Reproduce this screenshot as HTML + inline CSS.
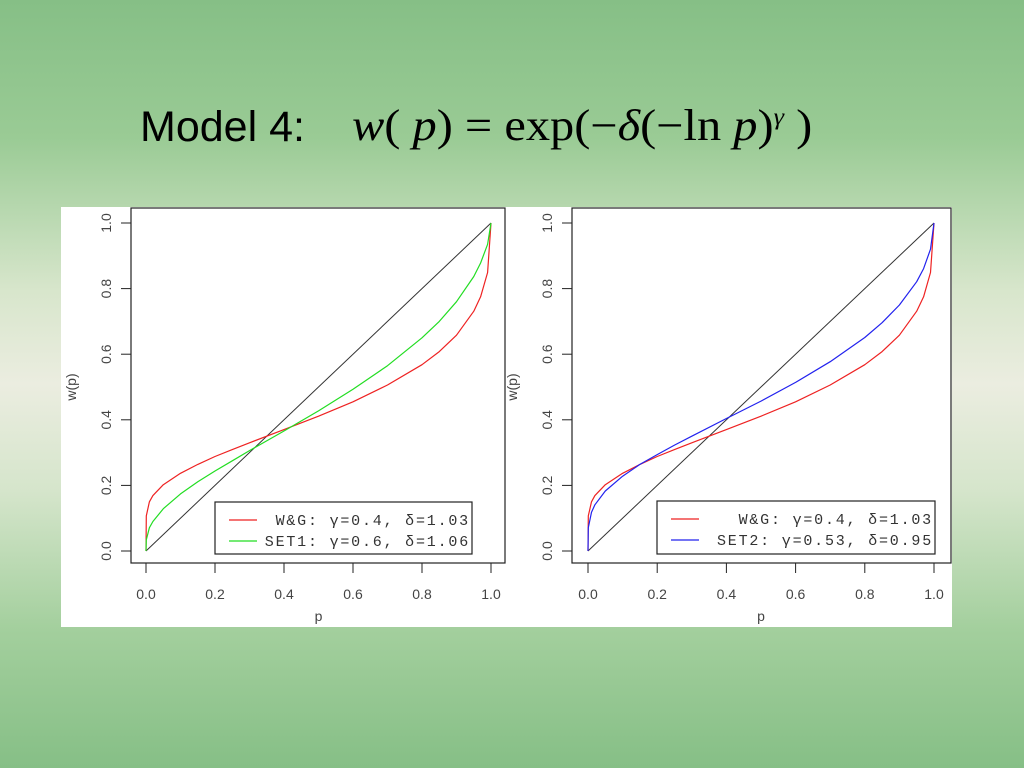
<!DOCTYPE html>
<html><head><meta charset="utf-8"><style>
html,body{margin:0;padding:0}
body{width:1024px;height:768px;overflow:hidden;position:relative;
background:linear-gradient(#86bf86 0%,#9acb95 18%,#d8e6cc 38%,#ebede0 50%,#d5e5cb 64%,#a3cf9d 82%,#86bf86 100%);
font-family:"Liberation Sans",sans-serif}
#title{position:absolute;left:140px;top:103px;font-size:43px;color:#000}
#formula{position:absolute;left:352px;top:100px;font-family:"Liberation Serif",serif;font-size:44px;color:#000;white-space:nowrap;transform:scaleX(1.1);transform-origin:left top}
#panel{position:absolute;left:61px;top:207px;width:891px;height:420px;background:#fff}
svg text{font-family:"Liberation Sans",sans-serif;font-size:14px;fill:#444}
svg text.leg{font-family:"Liberation Mono",monospace;font-size:15px;fill:#333;letter-spacing:1.8px}
</style></head><body>
<div id="title">Model 4:</div>
<div id="formula"><i>w</i>( <i>p</i>) = exp(−<i>δ</i>(−ln <i>p</i>)<sup style="font-size:24px"><i>γ</i></sup> )</div>
<div id="panel"></div>
<svg id="svg" width="1024" height="768" style="position:absolute;left:0;top:0"></svg>
<script>
const pVals=[0,0.001,0.01,0.02,0.05,0.1,0.15,0.2,0.25,0.3,0.4,0.5,0.6,0.7,0.8,0.85,0.9,0.95,0.97,0.99,1];
const wgVals=[0,0.107,0.150,0.169,0.202,0.237,0.264,0.288,0.309,0.330,0.370,0.411,0.455,0.506,0.568,0.608,0.658,0.731,0.775,0.849,1];
const set1Vals=[0,0.034,0.071,0.090,0.129,0.174,0.211,0.244,0.275,0.306,0.366,0.427,0.493,0.565,0.650,0.700,0.760,0.837,0.878,0.935,1];
const set2Vals=[0,0.071,0.118,0.141,0.183,0.228,0.264,0.294,0.323,0.350,0.404,0.457,0.514,0.577,0.651,0.696,0.750,0.821,0.861,0.920,1];
const tickLabels=["0.0","0.2","0.4","0.6","0.8","1.0"];
const tickVals=[0,0.2,0.4,0.6,0.8,1.0];
const NS="http://www.w3.org/2000/svg";
const svg=document.getElementById('svg');
function el(t,a,p){const e=document.createElementNS(NS,t);for(const k in a)e.setAttribute(k,a[k]);(p||svg).appendChild(e);return e;}
function panel(x0,x1,bx0,bx1,series,legTexts,legBox,name){
  const g=el('g',{});
  
  
  const y0=551,y1=223;
  const sx=v=>x0+(x1-x0)*v, sy=v=>y0+(y1-y0)*v;
  const box=el('rect',{x:bx0,y:208,width:bx1-bx0,height:355,fill:'none',stroke:'#222','stroke-width':1.2},g);
  
  
  tickVals.forEach((v,i)=>{
    const t=el('line',{x1:sx(v),x2:sx(v),y1:563,y2:573,stroke:'#222'},g);
    
    
    const l=el('text',{x:sx(v),y:599,'text-anchor':'middle'},g);l.textContent=tickLabels[i];
    
    
    const ty=el('line',{x1:bx0-10,x2:bx0,y1:sy(v),y2:sy(v),stroke:'#222'},g);
    
    
    const yl=el('text',{x:0,y:0,'text-anchor':'middle',transform:`translate(${bx0-20},${sy(v)}) rotate(-90)`},g);yl.textContent=tickLabels[i];
    
    
  });
  const xt=el('text',{x:(x0+x1)/2,y:621,'text-anchor':'middle'},g);xt.textContent='p';
  
  
  const yt=el('text',{x:0,y:0,'text-anchor':'middle',transform:`translate(${bx0-55},387) rotate(-90)`},g);yt.textContent='w(p)';
  
  
  const diag=el('line',{x1:sx(0),y1:sy(0),x2:sx(1),y2:sy(1),stroke:'#333','stroke-width':1},g);
  
  
  series.forEach(s=>{
    const d=pVals.map((p,i)=>(i?'L':'M')+sx(p).toFixed(1)+','+sy(s.v[i]).toFixed(1)).join(' ');
    const path=el('path',{d:d,fill:'none',stroke:s.c,'stroke-width':1.2,'stroke-linejoin':'round'},g);
    
    
  });
  const lb=el('rect',{x:legBox[0],y:legBox[1],width:legBox[2],height:legBox[3],fill:'#fff',stroke:'#222','stroke-width':1.2},g);
  
  
  series.forEach((s,i)=>{
    const yy=legBox[1]+18+i*21;
    const ln=el('line',{x1:legBox[0]+14,x2:legBox[0]+42,y1:yy,y2:yy,stroke:s.c,'stroke-width':1.2},g);
    
    
    const tx=el('text',{x:legBox[0]+legBox[2]-2,y:yy+5,'text-anchor':'end','class':'leg'},g);tx.textContent=legTexts[i];
    
    
  });
}
panel(146,491,131,505,[{v:wgVals,c:'#ee2222',n:'wg-curve'},{v:set1Vals,c:'#22dd22',n:'set1-curve'}],
 ['W&G: γ=0.4, δ=1.03','SET1: γ=0.6, δ=1.06'],[215,502,257,52],'left-chart');
panel(588,934,572,951,[{v:wgVals,c:'#ee2222',n:'wg-curve'},{v:set2Vals,c:'#2222ee',n:'set2-curve'}],
 ['W&G: γ=0.4, δ=1.03','SET2: γ=0.53, δ=0.95'],[657,501,278,53],'right-chart');
</script>
</body></html>
